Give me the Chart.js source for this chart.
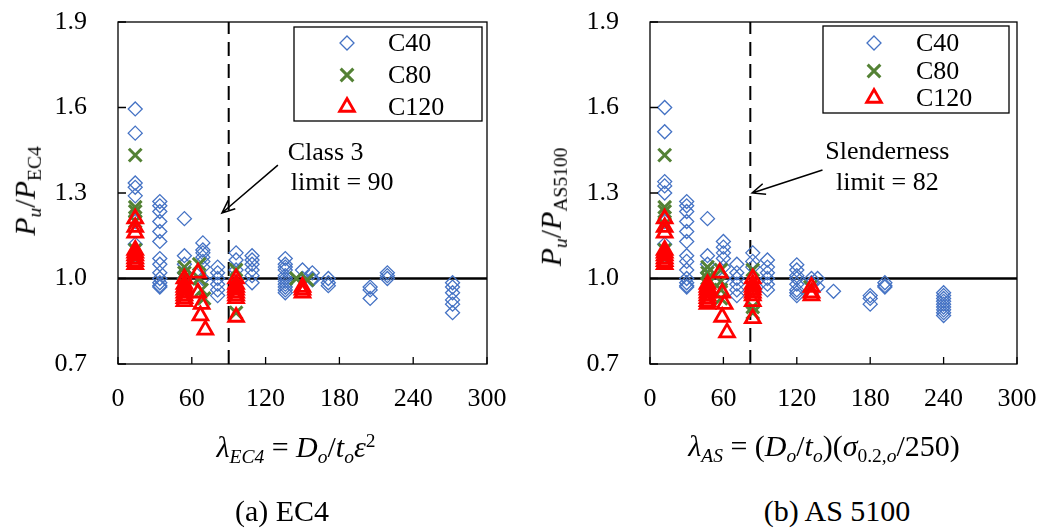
<!DOCTYPE html>
<html>
<head>
<meta charset="utf-8">
<script src="https://cdn.jsdelivr.net/npm/chart.js@4.4.1/dist/chart.umd.min.js"></script>
<style>
  body { margin: 0; background: #fff; width: 1042px; height: 530px; position: relative; overflow: hidden;
         font-family: 'Liberation Serif', 'Times New Roman', serif; color: #000; }
  .panel { position: absolute; top: 0; height: 430px; }
  .lbl { position: absolute; white-space: nowrap; line-height: 1; transform: translate(-50%, -50%); }
  .rot { transform: translate(-50%, -50%) rotate(-90deg); }
  sub { font-size: 65%; vertical-align: -0.3em; }
  sup { font-size: 65%; vertical-align: 0.5em; }
</style>
</head>
<body>
<div class="panel" style="left:0;width:520px"><canvas id="ec4" width="520" height="430"></canvas></div>
<div class="panel" style="left:520px;width:522px"><canvas id="as" width="522" height="430"></canvas></div>

<div class="lbl rot" style="left:27px;top:191px;font-size:30px"><i>P</i><sub><i>u</i></sub>/<i>P</i><sub>EC4</sub></div>
<div class="lbl rot" style="left:553px;top:207px;font-size:30px"><i>P</i><sub><i>u</i></sub>/<i>P</i><sub>AS5100</sub></div>
<div class="lbl" style="left:296px;top:449px;font-size:30px"><i>λ</i><sub><i>EC4</i></sub> = <i>D</i><sub><i>o</i></sub>/<i>t</i><sub><i>o</i></sub><i>ε</i><sup>2</sup></div>
<div class="lbl" style="left:824px;top:448px;font-size:30px"><i>λ</i><sub><i>AS</i></sub> = (<i>D</i><sub><i>o</i></sub>/<i>t</i><sub><i>o</i></sub>)(<i>σ</i><sub>0.2,<i>o</i></sub>/250)</div>
<div class="lbl" style="left:282px;top:511px;font-size:30px">(a) EC4</div>
<div class="lbl" style="left:837px;top:511px;font-size:30px">(b) AS 5100</div>

<script>
// data
const seriesNames = ['C40', 'C80', 'C120'];
const xTicks = [0, 60, 120, 180, 240, 300];
const yTicks = [0.7, 1.0, 1.3, 1.6, 1.9];
const unityRatio = 1.0;

const ec4Limit = 90;
const ec4Note = ['Class 3', 'limit = 90'];
const asLimit = 82;
const asNote = ['Slenderness', 'limit = 82'];

// (a) EC4
const ec4C40X = [14,14,14,14,14,14,14,14,14, 34,34,34,34,34,34,34,34,34,34,34,34,34, 54,54,54,54,54,
                 69,69,69,69,69,69,69, 81,81,81,81,81,81, 96,96,96,96, 109,109,109,109,109,109,
                 136,136,136,136,136,136,136,136,136,136,136, 150,150, 158,158,158, 171,171,171,
                 205,205,205, 219,219,219, 272,272,272,272,272,272];
const ec4C40Y = [1.595,1.51,1.335,1.32,1.29,1.2,1.12,1.08,1.06,
                 1.27,1.255,1.235,1.2,1.165,1.13,1.07,1.05,1.02,1.0,0.985,0.975,0.97,
                 1.21,1.08,1.05,1.02,1.0, 1.125,1.1,1.09,1.075,1.06,1.04,1.0,
                 1.04,1.02,1.0,0.98,0.96,0.94, 1.09,1.065,1.03,1.0, 1.08,1.065,1.05,1.03,1.01,0.985,
                 1.07,1.05,1.04,1.03,1.01,1.0,0.99,0.98,0.97,0.96,0.95, 1.03,1.0, 1.02,1.0,0.995,
                 1.0,0.985,0.975, 0.97,0.96,0.93, 1.02,1.01,1.0, 0.985,0.97,0.95,0.925,0.91,0.88];
const ec4C80X = [14,14,14,14,14,14, 54,54,54,54, 66,66,68,70, 96,96,96, 145,154];
const ec4C80Y = [1.433,1.25,1.235,1.2,1.1,1.07, 1.04,1.02,1.0,0.98, 1.05,1.0,0.96,0.93, 1.03,0.98,0.88, 1.0,0.995];
const ec4C120X = [14,14,14,14,14,14,14,14,14, 54,54,54,54,54,54,54,54, 65,65,68,67,71,
                  96,96,96,96,96,96,96,96, 150,150,150];
const ec4C120Y = [1.21,1.18,1.16,1.1,1.09,1.08,1.07,1.06,1.05, 1.0,0.98,0.97,0.96,0.95,0.94,0.93,0.92,
                  1.02,0.95,0.91,0.87,0.82, 1.0,0.98,0.97,0.96,0.95,0.94,0.93,0.865, 0.97,0.96,0.95];

// (b) AS 5100
const asC40X = [12,12,12,12,12,12,12,12, 30,30,30,30,30,30,30,30,30,30,30,30,30, 47,47,47,47,
                60,60,60,60,60,60, 71,71,71,71,71,71, 84,84,84, 96,96,96,96,96,96,
                120,120,120,120,120,120,120,120, 132,132, 137,137, 150, 180,180,180, 192,192,192,
                240,240,240,240,240,240,240,240,240];
const asC40Y = [1.6,1.515,1.34,1.325,1.3,1.2,1.12,1.08,
                1.27,1.255,1.235,1.2,1.165,1.13,1.08,1.06,1.03,1.0,0.985,0.975,0.97,
                1.21,1.08,1.05,1.02, 1.13,1.11,1.09,1.07,1.04,1.0, 1.05,1.02,1.0,0.98,0.96,0.94,
                1.09,1.06,1.04, 1.065,1.04,1.02,1.0,0.98,0.96, 1.048,1.03,1.01,1.0,0.98,0.96,0.95,0.94,
                1.0,0.985, 1.0,0.97, 0.955, 0.94,0.93,0.91, 0.985,0.975,0.97,
                0.95,0.94,0.93,0.92,0.91,0.9,0.89,0.88,0.87];
const asC80X = [12,12,12,12,12,12, 47,47,47,47, 58,58,58,58, 84,84,84, 131];
const asC80Y = [1.433,1.25,1.235,1.19,1.1,1.07, 1.04,1.02,1.0,0.98, 1.03,0.99,0.96,0.93, 1.03,0.9,0.88, 0.97];
const asC120X = [12,12,12,12,12,12,12,12,12, 47,47,47,47,47,47,47,47, 57,59,61,59,63,
                 84,84,84,84,84,84,84,84, 132,132,132];
const asC120Y = [1.21,1.18,1.16,1.1,1.09,1.08,1.07,1.06,1.05, 0.98,0.97,0.96,0.95,0.94,0.93,0.92,0.91,
                 1.02,0.95,0.91,0.865,0.81, 1.0,0.98,0.97,0.96,0.95,0.94,0.92,0.86, 0.97,0.95,0.94];

const FONT = "'Liberation Serif', 'Times New Roman', serif";
const blue = '#4472C4', green = '#548235', red = '#FF0000';

const styles = [
  { pointStyle: 'rectRot', color: blue, radius: 7, width: 1.3 },
  { pointStyle: 'crossRot', color: green, radius: 9, width: 3 },
  { pointStyle: 'triangle', color: red, radius: 8.5, width: 2.8 }
];

function zip(xs, ys) {
  return xs.map((x, i) => ({ x: x, y: ys[i] }));
}

function drawMarker(ctx, st, x, y) {
  ctx.save();
  ctx.strokeStyle = st.color;
  ctx.lineWidth = st.width;
  const r = st.radius;
  ctx.beginPath();
  if (st.pointStyle === 'rectRot') {
    ctx.moveTo(x, y - r); ctx.lineTo(x + r, y); ctx.lineTo(x, y + r); ctx.lineTo(x - r, y); ctx.closePath();
  } else if (st.pointStyle === 'crossRot') {
    const d = r * Math.SQRT1_2;
    ctx.moveTo(x - d, y - d); ctx.lineTo(x + d, y + d);
    ctx.moveTo(x + d, y - d); ctx.lineTo(x - d, y + d);
  } else {
    ctx.moveTo(x, y - r); ctx.lineTo(x + 0.866 * r, y + 0.5 * r); ctx.lineTo(x - 0.866 * r, y + 0.5 * r); ctx.closePath();
  }
  ctx.stroke();
  ctx.restore();
}

// frame, inward ticks, legend box and the limit note
const decoPlugin = {
  id: 'deco',
  afterDatasetsDraw(chart, args, opts) {
    const ctx = chart.ctx;
    const a = chart.chartArea;
    const xs = chart.scales.x, ys = chart.scales.y;
    ctx.save();
    ctx.strokeStyle = '#000';
    ctx.lineWidth = 1.3;
    ctx.strokeRect(a.left, a.top, a.right - a.left, a.bottom - a.top);
    ctx.beginPath();
    xTicks.forEach(v => {
      const px = xs.getPixelForValue(v);
      ctx.moveTo(px, a.bottom); ctx.lineTo(px, a.bottom - 7);
    });
    yTicks.forEach(v => {
      const py = ys.getPixelForValue(v);
      ctx.moveTo(a.left, py); ctx.lineTo(a.left + 8, py);
    });
    ctx.stroke();

    // legend
    const lg = opts.legend;
    ctx.fillStyle = '#fff';
    ctx.fillRect(lg.x, lg.y, lg.w, lg.h);
    ctx.lineWidth = 1.3;
    ctx.strokeRect(lg.x, lg.y, lg.w, lg.h);
    ctx.fillStyle = '#000';
    ctx.font = '26px ' + FONT;
    ctx.textBaseline = 'middle';
    ctx.textAlign = 'left';
    seriesNames.forEach((name, i) => {
      const ry = lg.rows[i];
      drawMarker(ctx, styles[i], lg.markerX, ry);
      ctx.fillText(name, lg.textX, ry + 1);
    });

    // note with arrow
    const n = opts.note;
    ctx.textBaseline = 'alphabetic';
    ctx.textAlign = n.align;
    n.text.forEach((t, i) => {
      ctx.fillText(t, xs.getPixelForValue(n.pos[i][0]), ys.getPixelForValue(n.pos[i][1]));
    });
    const x0 = xs.getPixelForValue(n.from[0]), y0 = ys.getPixelForValue(n.from[1]);
    const x1 = xs.getPixelForValue(n.to[0]), y1 = ys.getPixelForValue(n.to[1]);
    const ang = Math.atan2(y1 - y0, x1 - x0);
    ctx.lineWidth = 1.5;
    ctx.beginPath();
    ctx.moveTo(x0, y0); ctx.lineTo(x1, y1);
    ctx.moveTo(x1 - 14 * Math.cos(ang - 0.4), y1 - 14 * Math.sin(ang - 0.4));
    ctx.lineTo(x1, y1);
    ctx.lineTo(x1 - 14 * Math.cos(ang + 0.4), y1 - 14 * Math.sin(ang + 0.4));
    ctx.stroke();
    ctx.restore();
  }
};

function buildChart(id, series, limit, area, deco) {
  const canvas = document.getElementById(id);
  const pointSets = series.map((s, i) => ({
    label: seriesNames[i],
    data: zip(s[0], s[1]),
    pointStyle: styles[i].pointStyle,
    pointRadius: styles[i].radius,
    pointBorderColor: styles[i].color,
    pointBackgroundColor: 'rgba(0,0,0,0)',
    pointBorderWidth: styles[i].width,
    showLine: false,
    order: 2 - i
  }));
  const lines = [
    { label: 'limit', data: [{ x: limit, y: yTicks[0] }, { x: limit, y: yTicks[yTicks.length - 1] }],
      showLine: true, borderColor: '#000', borderWidth: 2, borderDash: [14, 8], pointRadius: 0, order: 5 },
    { label: 'unity', data: [{ x: xTicks[0], y: unityRatio }, { x: xTicks[xTicks.length - 1], y: unityRatio }],
      showLine: true, borderColor: '#000', borderWidth: 2.5, pointRadius: 0, order: 6 }
  ];
  return new Chart(canvas, {
    type: 'scatter',
    data: { datasets: pointSets.concat(lines) },
    options: {
      responsive: false,
      animation: false,
      events: [],
      layout: { padding: { top: area.top, right: canvas.width - area.right, left: 0, bottom: 0 } },
      plugins: { legend: { display: false }, tooltip: { enabled: false }, deco: deco },
      scales: {
        x: {
          type: 'linear', min: xTicks[0], max: xTicks[xTicks.length - 1],
          afterBuildTicks: s => { s.ticks = xTicks.map(v => ({ value: v })); },
          afterFit: s => { s.height = canvas.height - area.bottom; s.paddingLeft = 0; s.paddingRight = 0; },
          grid: { display: false }, border: { display: false },
          ticks: { font: { family: FONT, size: 26 }, color: '#000', padding: 12, maxRotation: 0 }
        },
        y: {
          min: yTicks[0], max: yTicks[yTicks.length - 1],
          afterBuildTicks: s => { s.ticks = yTicks.map(v => ({ value: v })); },
          afterFit: s => { s.width = area.left; s.paddingTop = 0; s.paddingBottom = 0; },
          grid: { display: false }, border: { display: false },
          ticks: { font: { family: FONT, size: 26 }, color: '#000', padding: 23, callback: v => v.toFixed(1) }
        }
      }
    },
    plugins: [decoPlugin]
  });
}

buildChart('ec4', [[ec4C40X, ec4C40Y], [ec4C80X, ec4C80Y], [ec4C120X, ec4C120Y]], ec4Limit,
  { left: 118, right: 487, top: 22, bottom: 364 }, {
  legend: { x: 294, y: 27, w: 188, h: 94, rows: [43, 75, 107], markerX: 347, textX: 388 },
  note: { text: ec4Note, align: 'left', pos: [[138, 1.416], [140.5, 1.31]], from: [130, 1.398], to: [84.5, 1.23] }
});
buildChart('as', [[asC40X, asC40Y], [asC80X, asC80Y], [asC120X, asC120Y]], asLimit,
  { left: 130, right: 497, top: 22, bottom: 364 }, {
  legend: { x: 303, y: 26, w: 186, h: 87, rows: [43, 71, 98], markerX: 354, textX: 396 },
  note: { text: asNote, align: 'center', pos: [[194, 1.419], [194, 1.31]], from: [141, 1.381], to: [83.5, 1.30] }
});
</script>
</body>
</html>
